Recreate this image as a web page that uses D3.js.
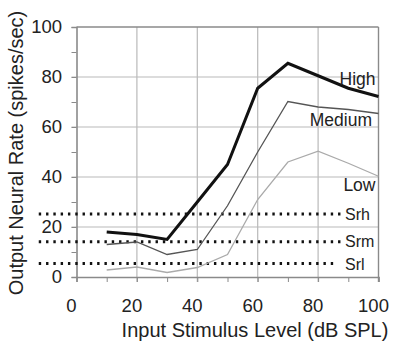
<!DOCTYPE html>
<html>
<head>
<meta charset="utf-8">
<script src="https://cdn.jsdelivr.net/npm/d3@7"></script>
<style>
  html, body { margin: 0; padding: 0; background: #fff; }
  svg { display: block; font-family: "Liberation Sans", Arial, sans-serif; }
</style>
</head>
<body>
<svg id="chart" width="400" height="357"></svg>
<script>
// ---- data ----
const levels = [10, 20, 30, 40, 50, 60, 70, 80, 90, 100];
const highRate = [18, 17, 15, 30, 45, 75.5, 85.5, 80.5, 75.5, 72.2];
const mediumRate = [13, 14, 9, 11, 28.5, 50, 70.2, 68, 67, 65.4];
const lowRate = [2.8, 4, 1.8, 3.8, 9, 31, 46, 50.3, 45.5, 40.3];
const seriesNames = ["High", "Medium", "Low"];
const thresholdNames = ["Srh", "Srm", "Srl"];
const thresholdValues = [25.2, 14.1, 5.4];
const xTicks = [0, 20, 40, 60, 80, 100];
const yTicks = [0, 20, 40, 60, 80, 100];
const minorTicks = [0, 10, 20, 30, 40, 50, 60, 70, 80, 90, 100];
const xTitle = "Input Stimulus Level (dB SPL)";
const yTitle = "Output Neural Rate (spikes/sec)";

// ---- layout ----
const svg = d3.select("#chart");
const x = d3.scaleLinear().domain([0, 100]).range([76.5, 378.5]);
const y = d3.scaleLinear().domain([0, 100]).range([277, 27]);

const gridColor = "#b9b9b9";
const frameColor = "#8a8a8a";

// grid lines
const grid = svg.append("g");
grid.selectAll("line.vg").data([20, 40, 60, 80]).enter().append("line")
  .attr("x1", d => x(d)).attr("x2", d => x(d))
  .attr("y1", y(100)).attr("y2", y(0) + 5)
  .attr("stroke", gridColor).attr("stroke-width", 1.2);
grid.selectAll("line.hg").data([20, 40, 60, 80]).enter().append("line")
  .attr("x1", x(0) - 5).attr("x2", x(100))
  .attr("y1", d => y(d)).attr("y2", d => y(d))
  .attr("stroke", gridColor).attr("stroke-width", 1.2);

// axes with minor ticks
const xAxis = d3.axisBottom(x).tickValues(minorTicks).tickSize(5).tickFormat("");
const yAxis = d3.axisLeft(y).tickValues(minorTicks).tickSize(5).tickFormat("");
const gx = svg.append("g").attr("transform", `translate(0,${y(0)})`).call(xAxis);
const gy = svg.append("g").attr("transform", `translate(${x(0)},0)`).call(yAxis);
[gx, gy].forEach(g => {
  g.select(".domain").attr("stroke", frameColor).attr("stroke-width", 1.6);
  g.selectAll(".tick line").attr("stroke", frameColor).attr("stroke-width", 1);
});
// top and right frame
svg.append("line").attr("x1", x(0)).attr("x2", x(100)).attr("y1", y(100)).attr("y2", y(100))
  .attr("stroke", frameColor).attr("stroke-width", 1.4);
svg.append("line").attr("x1", x(100)).attr("x2", x(100)).attr("y1", y(100)).attr("y2", y(0) + 5)
  .attr("stroke", frameColor).attr("stroke-width", 1.4);

// tick labels
svg.append("g").selectAll("text").data(xTicks).enter().append("text")
  .attr("x", d => x(d) - 5).attr("y", 311.5)
  .attr("text-anchor", "middle").attr("font-size", 18.5).attr("fill", "#222")
  .text(d => d);
svg.append("g").selectAll("text").data(yTicks).enter().append("text")
  .attr("x", 62).attr("y", d => y(d)).attr("dy", "0.35em")
  .attr("text-anchor", "end").attr("font-size", 18.5).attr("fill", "#222")
  .text(d => d);

// axis titles
svg.append("text").attr("x", 255).attr("y", 337)
  .attr("text-anchor", "middle").attr("font-size", 20).attr("fill", "#222")
  .text(xTitle);
svg.append("text").attr("transform", "translate(23,153) rotate(-90)")
  .attr("text-anchor", "middle").attr("font-size", 20).attr("fill", "#222")
  .text(yTitle);

// threshold dotted lines
const thrExtent = [[-12.5, 87.5], [-12.5, 87.5], [-12.5, 85.5]];
const thrLabelY = [220, 247, 270];
thresholdValues.forEach((v, i) => {
  svg.append("line")
    .attr("x1", x(thrExtent[i][0])).attr("x2", x(thrExtent[i][1]))
    .attr("y1", y(v)).attr("y2", y(v))
    .attr("stroke", "#111").attr("stroke-width", 3)
    .attr("stroke-dasharray", "2.4 4.9");
  svg.append("text").attr("x", 345).attr("y", thrLabelY[i])
    .attr("font-size", 16).attr("fill", "#222").text(thresholdNames[i]);
});

// series lines
const seriesData = [highRate, mediumRate, lowRate];
const seriesStyle = [
  { color: "#111", width: 3 },
  { color: "#555", width: 1.3 },
  { color: "#aaa", width: 1.3 }
];
const line = d3.line().x(d => x(d[0])).y(d => y(d[1]));
seriesData.forEach((vals, i) => {
  svg.append("path")
    .datum(levels.map((l, j) => [l, vals[j]]))
    .attr("d", line)
    .attr("fill", "none")
    .attr("stroke", seriesStyle[i].color)
    .attr("stroke-width", seriesStyle[i].width)
    .attr("stroke-linejoin", "miter");
});

// series labels
const seriesLabelPos = [[375.5, 85], [372, 126], [375.5, 190.5]];
seriesNames.forEach((n, i) => {
  svg.append("text").attr("x", seriesLabelPos[i][0]).attr("y", seriesLabelPos[i][1])
    .attr("text-anchor", "end").attr("font-size", 17.5).attr("fill", "#222").text(n);
});
</script>
</body>
</html>
